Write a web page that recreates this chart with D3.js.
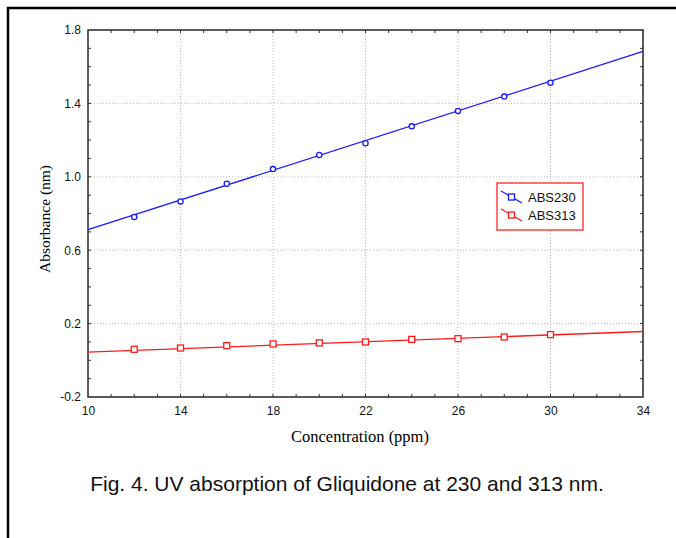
<!DOCTYPE html>
<html>
<head>
<meta charset="utf-8">
<script src="https://cdn.jsdelivr.net/npm/d3@7"></script>
<style>
  html, body { margin: 0; padding: 0; background: #fff; }
  svg { display: block; }
</style>
</head>
<body>
<div id="vis"></div>
<script>
// values
var conc = [12, 14, 16, 18, 20, 22, 24, 26, 28, 30];
var abs230 = [0.781, 0.866, 0.962, 1.042, 1.119, 1.183, 1.275, 1.359, 1.437, 1.513];
var abs313 = [0.060, 0.067, 0.080, 0.089, 0.095, 0.100, 0.114, 0.118, 0.127, 0.140];

// fitted lines, end points across the x range
var fitX = [10, 34];
var fit230 = [0.712, 1.683];
var fit313 = [0.045, 0.157];

var xTicks = [10, 14, 18, 22, 26, 30, 34];
var yTicks = [-0.2, 0.2, 0.6, 1.0, 1.4, 1.8];
var seriesNames = ["ABS230", "ABS313"];

var W = 676, H = 538;
var margin = {top: 30, right: 33, bottom: 141, left: 88};
var width = W - margin.left - margin.right,
    height = H - margin.top - margin.bottom;

var blue = "#1a1aff", red = "#ff1a1a";

var svg = d3.select("#vis").append("svg")
  .attr("width", W)
  .attr("height", H);

// outer figure frame (only top and left visible)
svg.append("line").attr("x1", 7).attr("x2", W).attr("y1", 8).attr("y2", 8)
  .attr("stroke", "#000").attr("stroke-width", 2.5);
svg.append("line").attr("x1", 8).attr("x2", 8).attr("y1", 7).attr("y2", H)
  .attr("stroke", "#000").attr("stroke-width", 2.5);

var g = svg.append("g")
  .attr("transform", "translate(" + margin.left + "," + margin.top + ")");

var x = d3.scaleLinear().domain([10, 34]).range([0, width]);
var y = d3.scaleLinear().domain([-0.2, 1.8]).range([height, 0]);

// dotted grid at the labelled ticks
g.selectAll(".gx")
  .data(xTicks.slice(1, -1))
  .enter().append("line")
  .attr("x1", function (d) { return x(d); })
  .attr("x2", function (d) { return x(d); })
  .attr("y1", 0).attr("y2", height)
  .attr("stroke", "#b8b8b8").attr("stroke-dasharray", "1,2");
g.selectAll(".gy")
  .data(yTicks.slice(1, -1))
  .enter().append("line")
  .attr("x1", 0).attr("x2", width)
  .attr("y1", function (d) { return y(d); })
  .attr("y2", function (d) { return y(d); })
  .attr("stroke", "#b8b8b8").attr("stroke-dasharray", "1,2");

// small inward ticks on all four sides
var minorX = d3.range(11, 34, 1);
var minorY = d3.range(-1, 18, 1).map(function (d) { return d / 10; });
var tk = 3;
[0, height].forEach(function (yy, i) {
  g.selectAll(".mx" + i).data(minorX).enter().append("line")
    .attr("x1", function (d) { return x(d); })
    .attr("x2", function (d) { return x(d); })
    .attr("y1", yy).attr("y2", i === 0 ? yy + tk : yy - tk)
    .attr("stroke", "#333");
});
[0, width].forEach(function (xx, i) {
  g.selectAll(".my" + i).data(minorY).enter().append("line")
    .attr("y1", function (d) { return y(d); })
    .attr("y2", function (d) { return y(d); })
    .attr("x1", xx).attr("x2", i === 0 ? xx + tk : xx - tk)
    .attr("stroke", "#333");
});

// axes, labels only
var xAxis = g.append("g")
  .attr("transform", "translate(0," + height + ")")
  .call(d3.axisBottom(x).tickValues(xTicks).tickSize(0).tickPadding(9));
var yAxis = g.append("g")
  .call(d3.axisLeft(y).tickValues(yTicks).tickSize(0).tickPadding(7)
    .tickFormat(function (d) { return d.toFixed(1); }));
[xAxis, yAxis].forEach(function (a) {
  a.select(".domain").remove();
  a.selectAll("text")
    .attr("font-family", "'Liberation Sans', Arial, sans-serif")
    .attr("font-size", "12px")
    .attr("fill", "#111");
});

// plot frame
g.append("rect")
  .attr("width", width).attr("height", height)
  .attr("fill", "none").attr("stroke", "#333").attr("stroke-width", 1.6);

// fitted lines
var fitLine = d3.line()
  .x(function (d) { return x(d[0]); })
  .y(function (d) { return y(d[1]); });
g.append("path")
  .datum(d3.zip(fitX, fit230))
  .attr("d", fitLine)
  .attr("fill", "none").attr("stroke", blue).attr("stroke-width", 1.3);
g.append("path")
  .datum(d3.zip(fitX, fit313))
  .attr("d", fitLine)
  .attr("fill", "none").attr("stroke", red).attr("stroke-width", 1.3);

// markers
g.selectAll(".p230")
  .data(d3.zip(conc, abs230))
  .enter().append("circle")
  .attr("cx", function (d) { return x(d[0]); })
  .attr("cy", function (d) { return y(d[1]); })
  .attr("r", 2.6)
  .attr("fill", "#fff").attr("stroke", blue).attr("stroke-width", 1.3);
g.selectAll(".p313")
  .data(d3.zip(conc, abs313))
  .enter().append("rect")
  .attr("x", function (d) { return x(d[0]) - 3; })
  .attr("y", function (d) { return y(d[1]) - 3; })
  .attr("width", 6).attr("height", 6)
  .attr("fill", "#fff").attr("stroke", red).attr("stroke-width", 1.3);

// axis titles
g.append("text")
  .attr("x", 272)
  .attr("y", height + 45)
  .attr("text-anchor", "middle")
  .attr("font-family", "'Liberation Serif', 'Times New Roman', serif")
  .attr("font-size", "16.5px")
  .text("Concentration (ppm)");
g.append("text")
  .attr("transform", "rotate(-90)")
  .attr("x", -189)
  .attr("y", -38)
  .attr("text-anchor", "middle")
  .attr("font-family", "'Liberation Serif', 'Times New Roman', serif")
  .attr("font-size", "15.5px")
  .text("Absorbance (nm)");

// legend
var leg = svg.append("g").attr("transform", "translate(497,183)");
leg.append("rect")
  .attr("width", 86).attr("height", 47)
  .attr("fill", "#fff").attr("stroke", "#ff4040").attr("stroke-width", 1.5);
[blue, red].forEach(function (c, i) {
  var yy = 14 + i * 18;
  leg.append("line")
    .attr("x1", 4).attr("x2", 25)
    .attr("y1", yy - 6).attr("y2", yy + 6)
    .attr("stroke", c).attr("stroke-width", 1.2);
  leg.append("rect")
    .attr("x", 11.5).attr("y", yy - 3)
    .attr("width", 6).attr("height", 6)
    .attr("fill", "#fff").attr("stroke", c).attr("stroke-width", 1.3);
  leg.append("text")
    .attr("x", 31).attr("y", yy)
    .attr("dy", "0.35em")
    .attr("font-family", "'Liberation Sans', Arial, sans-serif")
    .attr("font-size", "13px")
    .attr("fill", "#111")
    .text(seriesNames[i]);
});

// caption
svg.append("text")
  .attr("x", 347)
  .attr("y", 491)
  .attr("text-anchor", "middle")
  .attr("font-family", "'Liberation Sans', Arial, sans-serif")
  .attr("font-size", "21px")
  .attr("fill", "#111")
  .text("Fig. 4. UV absorption of Gliquidone at 230 and 313 nm.");
</script>
</body>
</html>
